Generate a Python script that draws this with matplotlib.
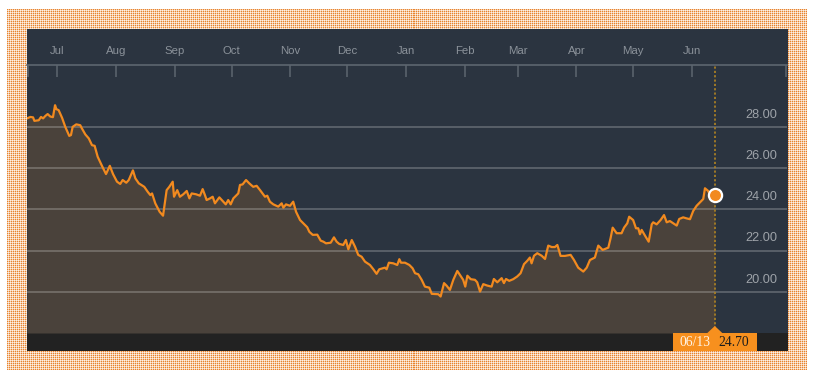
import numpy as np
import matplotlib
matplotlib.use("Agg")
import matplotlib.pyplot as plt
import matplotlib.dates as mdates
from matplotlib.patches import Rectangle, Polygon
from matplotlib.transforms import IdentityTransform
from datetime import datetime

# ---------------- data ----------------
start_date = datetime(2012, 7, 1)
day_offsets = [
    -16.0, -14.2, -12.8, -12.1, -9.8, -8.6, -7.5, -6.3, -5.1, -3.7,
    -2.3, -1.2, -0.5, 0.7, 2.5, 4.2, 6.3, 7.2, 8.1, 10.0,
    12.1, 13.0, 14.8, 16.6, 18.3, 19.7, 21.3, 23.6, 25.7, 27.7,
    29.4, 31.5, 33.2, 34.5, 36.4, 37.7, 39.9, 41.2, 43.0, 45.9,
    47.7, 49.1, 50.0, 51.7, 54.0, 55.8, 57.7, 59.1, 60.9, 61.6,
    63.3, 64.7, 66.5, 68.3, 69.7, 70.9, 73.2, 75.3, 76.7, 77.9,
    78.8, 80.6, 82.0, 83.2, 85.5, 87.6, 88.9, 90.2, 91.5, 92.9,
    95.5, 96.4, 97.8, 99.6, 101.3, 103.4, 105.2, 107.0, 109.6, 110.8,
    112.2, 114.0, 116.6, 118.4, 119.3, 120.7, 122.8, 124.5, 126.0, 128.1,
    129.8, 131.9, 133.0, 134.8, 137.2, 139.0, 140.4, 141.8, 144.3, 146.0,
    147.4, 148.8, 150.9, 152.3, 153.6, 155.4, 157.1, 158.8, 160.6, 162.4,
    165.0, 166.8, 168.5, 169.9, 172.9, 173.8, 175.0, 177.3, 179.4, 180.5,
    181.4, 183.5, 185.8, 187.5, 188.8, 190.5, 192.3, 194.0, 196.3, 197.6,
    201.1, 202.3, 204.1, 205.5, 207.2, 209.0, 211.1, 212.5, 214.2, 215.3,
    216.4, 218.2, 220.4, 221.6, 223.1, 224.8, 226.9, 229.2, 230.4, 232.2,
    234.5, 235.7, 236.8, 238.5, 240.6, 242.7, 244.5, 246.3, 248.0, 249.4,
    250.3, 251.6, 253.3, 255.6, 257.4, 259.1, 260.9, 262.6, 263.9, 265.6,
    267.9, 270.9, 272.7, 274.9, 277.6, 279.4, 281.1, 283.7, 285.5, 287.8,
    290.8, 292.0, 293.1, 295.2, 297.8, 299.1, 300.8, 301.8, 303.9, 305.4,
    306.6, 307.5, 308.4, 310.5, 312.1, 313.7, 314.5, 316.3, 318.4, 320.2,
    321.6, 323.3, 325.1, 326.9, 328.2, 330.3, 332.1, 333.9, 335.6, 337.4,
    339.2, 340.9, 341.8, 343.5, 344.4, 347.0]
prices = [
    28.41, 28.48, 28.46, 28.29, 28.32, 28.48, 28.41, 28.53, 28.62, 28.50,
    28.47, 29.05, 28.86, 28.81, 28.44, 28.00, 27.56, 27.60, 28.00, 28.12,
    28.08, 27.92, 27.63, 27.44, 27.11, 27.08, 26.55, 26.10, 25.71, 26.11,
    25.71, 25.34, 25.23, 25.42, 25.29, 25.42, 25.89, 25.50, 25.26, 25.09,
    24.85, 24.69, 24.77, 24.29, 23.88, 23.69, 24.93, 25.09, 25.34, 24.61,
    24.93, 24.61, 24.73, 24.89, 24.53, 24.77, 24.73, 24.66, 24.98, 24.69,
    24.45, 24.53, 24.61, 24.29, 24.58, 24.37, 24.24, 24.45, 24.24, 24.53,
    24.77, 25.18, 25.21, 25.42, 25.26, 25.09, 25.14, 24.93, 24.61, 24.66,
    24.37, 24.24, 24.13, 24.29, 24.08, 24.24, 24.17, 24.37, 23.88, 23.48,
    23.32, 23.13, 22.91, 22.76, 22.77, 22.48, 22.43, 22.35, 22.38, 22.64,
    22.43, 22.32, 22.27, 22.51, 22.06, 22.51, 22.19, 21.79, 21.70, 21.46,
    21.30, 21.09, 20.87, 21.09, 21.17, 21.09, 21.41, 21.38, 21.30, 21.58,
    21.41, 21.41, 21.30, 21.14, 20.90, 20.85, 20.58, 20.25, 20.20, 19.90,
    19.88, 19.77, 20.42, 20.29, 20.09, 20.58, 21.01, 20.82, 20.58, 20.25,
    20.78, 20.61, 20.58, 20.46, 20.01, 20.37, 20.30, 20.25, 20.62, 20.46,
    20.66, 20.42, 20.62, 20.53, 20.61, 20.74, 20.90, 21.34, 21.50, 21.66,
    21.38, 21.75, 21.87, 21.75, 21.59, 22.24, 22.17, 22.17, 22.27, 21.74,
    21.74, 21.79, 21.54, 21.17, 20.98, 21.17, 21.54, 21.66, 22.24, 22.03,
    22.14, 22.60, 23.11, 22.84, 22.84, 23.11, 23.32, 23.64, 23.48, 23.08,
    23.08, 22.79, 23.00, 22.67, 22.43, 23.27, 23.37, 23.27, 23.48, 23.72,
    23.37, 23.43, 23.32, 23.21, 23.53, 23.61, 23.56, 23.52, 23.92, 24.17,
    24.34, 24.50, 25.02, 24.89, 24.69, 24.70]
month_starts = ["2012-07-01", "2012-08-01", "2012-09-01", "2012-10-01",
                "2012-11-01", "2012-12-01", "2013-01-01", "2013-02-01",
                "2013-03-01", "2013-04-01", "2013-05-01", "2013-06-01"]
y_ticks = [20, 22, 24, 26, 28]
x_range_days = (-16.0, 385.1)
y_range = (18.0, 31.0)
last_label_date = "06/13"
last_label_value = "24.70"

# ---------------- style ----------------
W, H = 822, 384
NAVY = "#2b3440"
FILL = "#4a423b"
BAR = "#222222"
ORANGE = "#f28a1f"
DOT = np.array(matplotlib.colors.to_rgb("#e8842e"))

fig = plt.figure(figsize=(W / 100, H / 100), dpi=100)
fig.patch.set_facecolor("white")

# background: dotted frame + dark panel (pixel-level image on a full-figure axes)
img = np.ones((H, W, 3))
yy, xx = np.mgrid[0:H, 0:W]
frame = (xx >= 7) & (xx <= 805) & (yy >= 9) & (yy <= 369)
ox = (xx - 7) % 2 == 0
oy = (yy - 9) % 2 == 0
white = np.ones(3)
img[frame] = white * 0.88 + DOT * 0.12
img[frame & (ox ^ oy)] = white * 0.6 + DOT * 0.4
img[frame & ox & oy] = DOT
panel = (xx >= 27) & (xx < 787) & (yy >= 29) & (yy < 351)
img[panel] = matplotlib.colors.to_rgb(NAVY)
bar = (xx >= 27) & (xx < 787) & (yy >= 333) & (yy < 351)
img[bar] = matplotlib.colors.to_rgb(BAR)
bg = fig.add_axes([0, 0, 1, 1])
bg.imshow(img, interpolation="none", aspect="auto", extent=(0, W, H, 0))
bg.set_axis_off()

ax = fig.add_axes([27 / W, (H - 333) / H, 760 / W, 268 / H])
ax.set_facecolor(NAVY)

base = mdates.date2num(start_date)
x = base + np.array(day_offsets)
y = np.array(prices)

ax.set_xlim(base + x_range_days[0], base + x_range_days[1])
ax.set_ylim(*y_range)

ax.fill_between(x, y, y_range[0], color=FILL, lw=0, zorder=1)
for t in y_ticks:
    ax.axhline(t, color="white", alpha=0.27, lw=1.1, zorder=2)
    ax.annotate(f"{t:.2f}", xy=(0.987, t), xycoords=("axes fraction", "data"),
                xytext=(0, 8.8), textcoords="offset points",
                ha="right", va="center", fontsize=9.2,
                family="Liberation Sans", color="#9ea3a9", zorder=3)
ax.plot(x, y, color=ORANGE, lw=1.6, zorder=4, solid_joinstyle="round")

# vertical dotted marker line and end point
ax.axvline(x[-1], color="#a77e25", lw=1.3, ls=(0, (1.2, 1.2)), zorder=3)
ax.plot([x[-1]], [y[-1]], "o", ms=9.5, mfc=ORANGE, mec="white", mew=1.6,
        zorder=5, clip_on=False)

# spines and ticks
for s in ["left", "right", "bottom"]:
    ax.spines[s].set_visible(False)
ax.spines["top"].set_color("#5d6670")
ax.spines["top"].set_linewidth(1.2)
ax.xaxis.tick_top()
ax.set_xticks([mdates.date2num(datetime.strptime(m, "%Y-%m-%d")) for m in month_starts])
ax.xaxis.set_major_formatter(mdates.DateFormatter("%b"))
edge = [base + x_range_days[0] + 0.6, base + x_range_days[1] - 0.7]
ax.set_xticks(edge, minor=True)
ax.tick_params(axis="x", which="both", direction="in", length=8.8, width=1.1,
               color="#5d6670", pad=6.5, labelsize=8.2, labelcolor="#8b929a")
for lab in ax.get_xticklabels():
    lab.set_family("Liberation Sans")
ax.set_yticks([])

# bottom date/value label anchored to last point
fig.canvas.draw()
px, py = ax.transData.transform((x[-1], y_range[0]))
fig.add_artist(Rectangle((px - 42, py - 18), 84, 18, transform=IdentityTransform(),
                         facecolor="#f7901e", edgecolor="none", zorder=6))
fig.add_artist(Polygon([(px - 8, py - 0.5), (px + 8, py - 0.5), (px, py + 7)],
                       closed=True, transform=IdentityTransform(),
                       facecolor="#f7901e", edgecolor="none", zorder=6))
fig.text((px - 19.5) / W, (py - 9.6) / H, last_label_date, ha="center", va="center",
         fontsize=9.8, family="Liberation Serif", color="#fff4e6", zorder=7)
fig.text((px + 18.5) / W, (py - 9.6) / H, last_label_value, ha="center", va="center",
         fontsize=9.8, family="Liberation Serif", color="#1c1c1c", zorder=7)

fig.savefig("out.png", dpi=100, facecolor="white")
